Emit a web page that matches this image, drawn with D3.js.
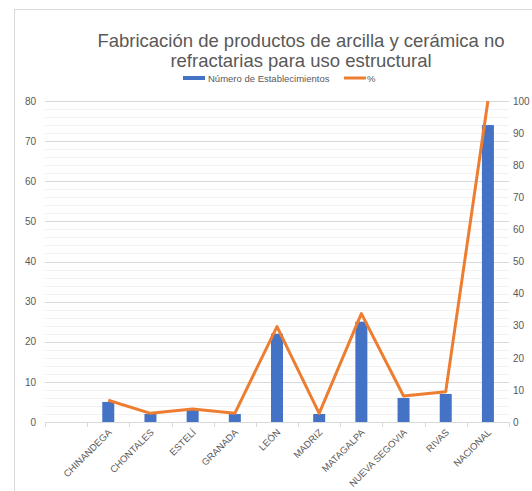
<!DOCTYPE html>
<html>
<head>
<meta charset="utf-8">
<script src="https://cdn.jsdelivr.net/npm/d3@7"></script>
<style>
  body { margin: 0; background: #fff; }
  svg { display: block; }
</style>
</head>
<body>
<svg id="chart" width="532" height="491"></svg>
<script>
// data
var categories = ["", "CHINANDEGA", "CHONTALES", "ESTELÍ", "GRANADA", "LEÓN", "MADRIZ", "MATAGALPA", "NUEVA SEGOVIA", "RIVAS", "NACIONAL"]
var establecimientos = [null, 5, 2, 3, 2, 22, 2, 25, 6, 7, 74]
var porcentaje = [null, 6.76, 2.70, 4.05, 2.70, 29.73, 2.70, 33.78, 8.11, 9.46, 100]
var leftTicks = [0, 10, 20, 30, 40, 50, 60, 70, 80]
var rightTicks = [0, 10, 20, 30, 40, 50, 60, 70, 80, 90, 100]

var svg = d3.select("#chart")
var textColor = "#595959"
var font = "'Liberation Sans', Arial, sans-serif"

// chart border
svg.append("rect")
    .attr("x", 14.5).attr("y", 9.5)
    .attr("width", 600).attr("height", 600)
    .attr("fill", "none")
    .attr("stroke", "#d9d9d9")

var x0 = 45, x1 = 509, yTop = 101, yBot = 422

var xScale = d3.scaleBand().domain(categories.map(function(d, i) { return i })).range([x0, x1])
var yLeft = d3.scaleLinear().domain([0, 80]).range([yBot, yTop])
var yRight = d3.scaleLinear().domain([0, 100]).range([yBot, yTop])

// minor gridlines
svg.append("g").selectAll("line")
    .data(d3.range(0, 81, 2).filter(function(v) { return v % 10 != 0 }))
    .enter().append("line")
    .attr("x1", x0).attr("x2", x1)
    .attr("y1", function(d) { return Math.round(yLeft(d)) + 0.5 })
    .attr("y2", function(d) { return Math.round(yLeft(d)) + 0.5 })
    .attr("stroke", "#f2f2f2")

// major gridlines
svg.append("g").selectAll("line")
    .data(leftTicks.slice(1))
    .enter().append("line")
    .attr("x1", x0).attr("x2", x1)
    .attr("y1", function(d) { return Math.round(yLeft(d)) + 0.5 })
    .attr("y2", function(d) { return Math.round(yLeft(d)) + 0.5 })
    .attr("stroke", "#d9d9d9")

// x axis line and category dividers
svg.append("line")
    .attr("x1", x0).attr("x2", x1)
    .attr("y1", yBot + 0.5).attr("y2", yBot + 0.5)
    .attr("stroke", "#d9d9d9")
svg.append("g").selectAll("line")
    .data(d3.range(categories.length + 1))
    .enter().append("line")
    .attr("x1", function(d) { return Math.round(x0 + d * xScale.step()) + 0.5 })
    .attr("x2", function(d) { return Math.round(x0 + d * xScale.step()) + 0.5 })
    .attr("y1", yBot).attr("y2", yBot + 5)
    .attr("stroke", "#d9d9d9")

// left axis
var leftAxis = svg.append("g")
    .attr("transform", "translate(" + (x0 - 9) + ",0)")
    .call(d3.axisLeft(yLeft).tickValues(leftTicks).tickSize(0).tickPadding(0))
leftAxis.select(".domain").remove()
leftAxis.selectAll("text")
    .style("font-family", font).style("font-size", "10px").attr("fill", textColor)

// right axis
var rightAxis = svg.append("g")
    .attr("transform", "translate(" + (x1 + 4) + ",0)")
    .call(d3.axisRight(yRight).tickValues(rightTicks).tickSize(0).tickPadding(0))
rightAxis.select(".domain").remove()
rightAxis.selectAll("text")
    .style("font-family", font).style("font-size", "10px").attr("fill", textColor)

// bars
var barW = 12
svg.append("g").selectAll("rect")
    .data(establecimientos.map(function(v, i) { return {i: i, v: v} }).filter(function(d) { return d.v != null }))
    .enter().append("rect")
    .attr("x", function(d) { return xScale(d.i) + xScale.bandwidth() / 2 - barW / 2 })
    .attr("y", function(d) { return yLeft(d.v) })
    .attr("width", barW)
    .attr("height", function(d) { return yBot - yLeft(d.v) })
    .attr("fill", "#4472c4")

// line
var line = d3.line()
    .defined(function(d) { return d.v != null })
    .x(function(d) { return xScale(d.i) + xScale.bandwidth() / 2 })
    .y(function(d) { return yRight(d.v) })
svg.append("path")
    .datum(porcentaje.map(function(v, i) { return {i: i, v: v} }))
    .attr("d", line)
    .attr("fill", "none")
    .attr("stroke", "#ed7d31")
    .attr("stroke-width", 3)
    .attr("stroke-linejoin", "round")

// category labels
svg.append("g").selectAll("text")
    .data(categories)
    .enter().append("text")
    .attr("transform", function(d, i) {
        return "translate(" + (xScale(i) + xScale.bandwidth() / 2 + 4) + "," + (yBot + 11) + ") rotate(-45)"
    })
    .attr("text-anchor", "end")
    .style("font-family", font).style("font-size", "9.5px")
    .attr("fill", textColor)
    .text(function(d) { return d })

// title
svg.append("text")
    .attr("x", 301).attr("y", 47)
    .attr("text-anchor", "middle")
    .style("font-family", font).style("font-size", "18.5px")
    .attr("fill", textColor)
    .text("Fabricación de productos de arcilla y cerámica no")
svg.append("text")
    .attr("x", 301).attr("y", 67)
    .attr("text-anchor", "middle")
    .style("font-family", font).style("font-size", "18.5px")
    .attr("fill", textColor)
    .text("refractarias para uso estructural")

// legend
var legend = svg.append("g")
legend.append("rect")
    .attr("x", 183).attr("y", 76).attr("width", 22).attr("height", 4)
    .attr("fill", "#4472c4")
legend.append("text")
    .attr("x", 208).attr("y", 81.5)
    .style("font-family", font).style("font-size", "9.5px")
    .attr("fill", textColor)
    .text("Número de Establecimientos")
legend.append("line")
    .attr("x1", 344).attr("x2", 366).attr("y1", 78).attr("y2", 78)
    .attr("stroke", "#ed7d31").attr("stroke-width", 3)
legend.append("text")
    .attr("x", 367).attr("y", 81.5)
    .style("font-family", font).style("font-size", "9.5px")
    .attr("fill", textColor)
    .text("%")
</script>
</body>
</html>
